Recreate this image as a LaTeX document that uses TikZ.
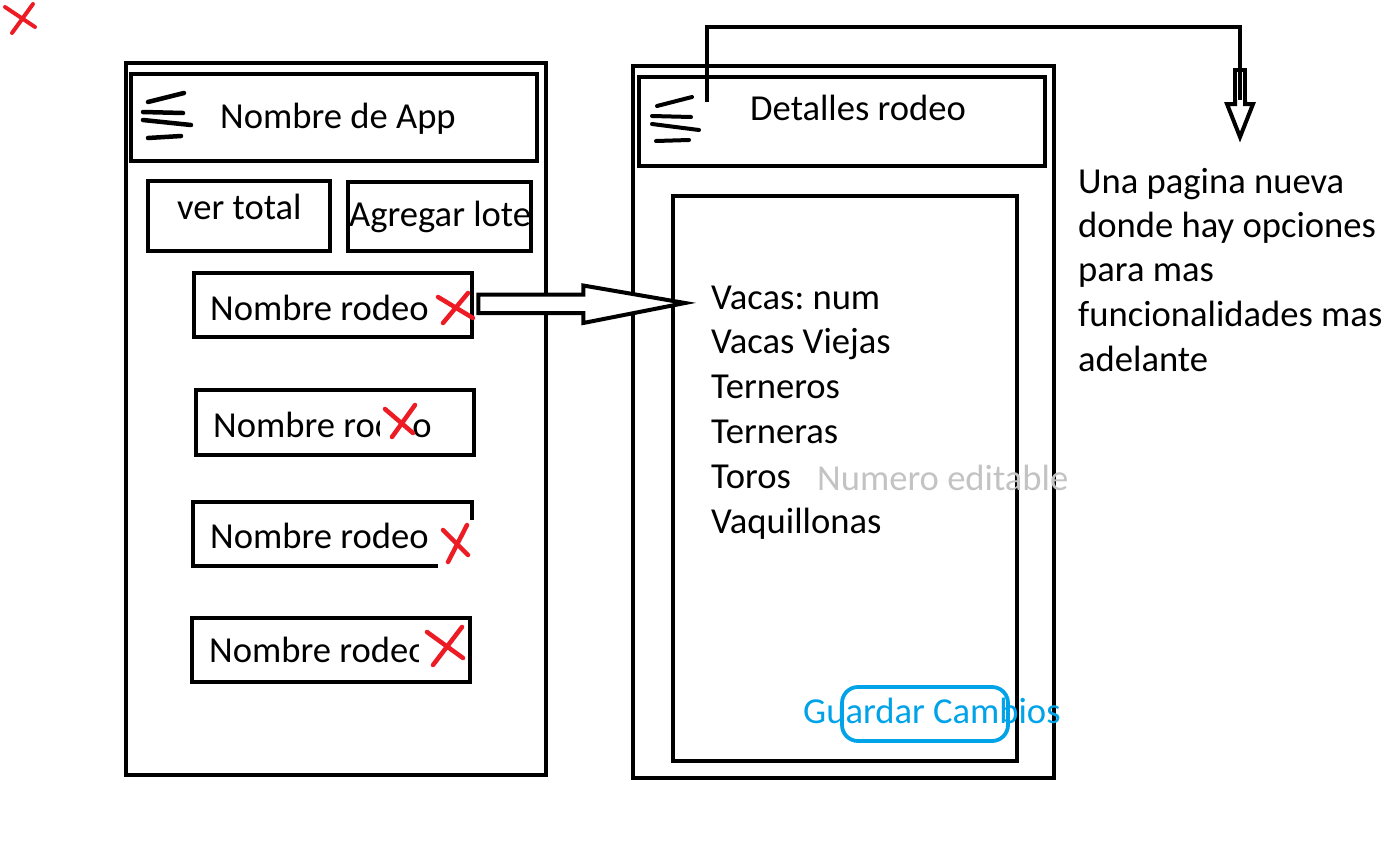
\documentclass[tikz,border=0pt]{standalone}
\usepackage{fontspec}
\setmainfont{Carlito}
\usetikzlibrary{calc}
\frenchspacing
\definecolor{pred}{HTML}{ED1C24}
\definecolor{pblue}{HTML}{00A2E8}
\definecolor{pgray}{HTML}{C3C3C3}
\tikzset{
  frame/.style={draw=black, line width=4.5pt, inner sep=0pt, fill=none},
  lbl/.style={inner sep=0pt, anchor=base west, font=\fontsize{36.6}{44}\selectfont},
  ham/.style={line width=4.5pt, line cap=round},
  redx/.style={draw=pred, line width=4.5pt, line cap=round},
  hollow/.style={draw=black, line width=4pt, line join=miter, fill=white},
  patch/.style={fill=white, draw=none}
}
\begin{document}
\begin{tikzpicture}[x=1pt, y=-1pt]
\useasboundingbox (0,0) rectangle (1388,841);
% top-left red x
\draw[redx, line width=4pt] (5,7) -- (35,27) (33,4) -- (12,33);

% ===== left screen =====
\node[frame, minimum width=420pt, minimum height=712pt] (leftscr) at (336,419) {};
\node[frame, minimum width=406pt, minimum height=87pt] (lhead) at (334,117.5) {};
\draw[ham] (148,102) -- (184,93) (143,112) -- (183,113) (143,120) -- (191,125) (148,138) -- (181,136);
\node[lbl] (lheadtxt) at (220,128) {Nombre de App};

\node[frame, minimum width=182pt, minimum height=70pt] (vtbox) at (239,216) {};
\node[lbl] (vttxt) at (177,219) {ver total};
\node[frame, minimum width=183pt, minimum height=69pt] (agbox) at (439.5,216.5) {};
\node[lbl] (agtxt) at (349,226) {Agregar lote};

\node[frame, minimum width=278pt, minimum height=64pt] (r1) at (333,305) {};
\node[lbl] (r1txt) at (210,320) {Nombre rodeo};
\draw[redx] (438,297) -- (473,318) (468,293) -- (443,323);

\node[frame, minimum width=278pt, minimum height=65pt] (r2) at (335,422.5) {};
\node[lbl] (r2txt) at (213,437) {Nombre rodeo};
\fill[patch] (380,396) rectangle (413,448);
\draw[redx] (385,409) -- (413,433) (415,405) -- (392,437);

\node[frame, minimum width=279pt, minimum height=64pt] (r3) at (332.5,534) {};
\node[lbl] (r3txt) at (210,548) {Nombre rodeo};
\fill[patch] (438,520) rectangle (477,572);
\draw[redx] (443,530) -- (468,555) (467,525) -- (448,562);

\node[frame, minimum width=278pt, minimum height=64pt] (r4) at (331,650) {};
\node[lbl] (r4txt) at (209,662) {Nombre rodeo};
\fill[patch] (419,623) rectangle (466,677);
\draw[redx] (427,632) -- (463,658) (462,627) -- (433,665);

% ===== right screen =====
\node[frame, minimum width=421pt, minimum height=712pt] (rightscr) at (843.5,422) {};
\node[frame, minimum width=406pt, minimum height=89pt] (rhead) at (842,121.5) {};
\draw[ham, line width=4pt] (657,106) -- (692,97) (652,116) -- (691,117) (652,124) -- (699,130) (656,141) -- (689,140);
\node[lbl] (rheadtxt) at (750,120) {Detalles rodeo};

\node[frame, minimum width=344pt, minimum height=565pt] (inner) at (845,478.5) {};
\node[lbl] (l1) at (711,309) {Vacas: num};
\node[lbl] (l2) at (711,353) {Vacas Viejas};
\node[lbl] (l3) at (711,398) {Terneros};
\node[lbl] (l4) at (711,443) {Terneras};
\node[lbl] (l5) at (711,488) {Toros};
\node[lbl, text=pgray] (numed) at (817,490) {Numero editable};
\node[lbl] (l6) at (711,533) {Vaquillonas};

\node[draw=pblue, line width=3.8pt, rounded corners=16pt, minimum width=166pt, minimum height=54pt, inner sep=0pt] (saveb) at (925,714) {};
\node[lbl, text=pblue] (savetxt) at (803,723) {Guardar Cambios};

% ===== wide arrow from first rodeo to detail list =====
\coordinate (tipA) at (685,303);
\draw[hollow] ($(r1.east)+(4,-10.5)$) -- ++(105,0) -- ++(0,-9) -- (tipA)
   -- ($(r1.east)+(109,18)$) -- ++(0,-10) -- ++(-105,0) -- cycle;

% ===== menu connector to new page note =====
\coordinate (menuR) at (707,102);
\coordinate (arrtop) at (1240,100);
\coordinate (tipB) at (1240,137);
\draw[line width=4pt] (menuR) -- (menuR |- 0,27) -| (arrtop);
\draw[draw=black, line width=4pt, line join=miter] (1235,100) -- (1235,70) -- (1245,70) -- (1245,100);
\draw[draw=black, line width=4pt, line join=miter] (1235,100) -- (1235,104) -- (1227,104) -- (tipB) -- (1253,104) -- (1245,104) -- (1245,100);

\node[lbl] (n1) at (1078,193) {Una pagina nueva};
\node[lbl] (n2) at (1078,237) {donde hay opciones};
\node[lbl] (n3) at (1078,281) {para mas};
\node[lbl] (n4) at (1078,326) {funcionalidades mas};
\node[lbl] (n5) at (1078,371) {adelante};
\end{tikzpicture}
\end{document}
